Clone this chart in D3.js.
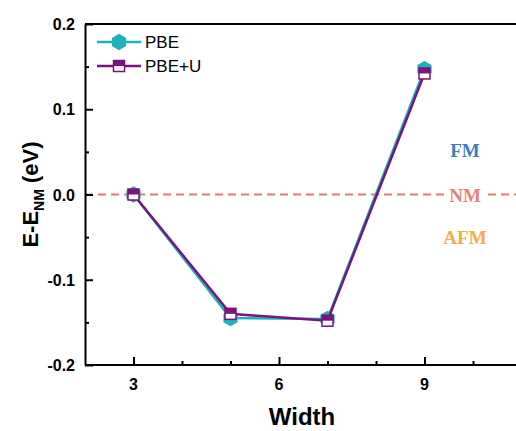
<!DOCTYPE html>
<html lang="en">
<head>
<meta charset="UTF-8">
<title>E-E_NM vs Width</title>
<script src="https://d3js.org/d3.v7.min.js"></script>
<style>
    body { margin: 0; background: #fff; }
    .tick-label { font-family: Arial, "Liberation Sans", sans-serif; font-weight: bold; font-size: 16px; }
    .axis-title { font-family: Arial, "Liberation Sans", sans-serif; font-weight: bold; }
    .legend { font-family: Arial, "Liberation Sans", sans-serif; font-size: 17px; }
    .phase { font-family: "Liberation Serif", "Times New Roman", serif; font-weight: bold; font-size: 19px; }
</style>
</head>
<body>
<svg width="516" height="431"></svg>
<script>
    // data
    const widths = [3, 5, 7, 9];
    const pbe = [0.0, -0.145, -0.146, 0.147];
    const pbeU = [0.0, -0.140, -0.148, 0.142];
    const xTicks = [3, 6, 9];
    const yTicks = [-0.2, -0.1, 0.0, 0.1, 0.2];

    const svg = d3.select("svg");
    const plotLeft = 85, plotTop = 24, plotBottom = 365;

    const x = d3.scaleLinear().domain([2, 11]).range([plotLeft, plotLeft + 9 * 48.5]);
    const y = d3.scaleLinear().domain([-0.2, 0.2]).range([plotBottom, plotTop]);

    const cyan = "#1cb3b8", purple = "#7a137f";

    // top frame line
    svg.append("line").attr("x1", plotLeft).attr("x2", 516).attr("y1", plotTop).attr("y2", plotTop)
        .attr("stroke", "#000").attr("stroke-width", 2);

    // NM reference line
    svg.append("line").attr("x1", plotLeft).attr("x2", 516).attr("y1", y(0)).attr("y2", y(0))
        .attr("stroke", "#ec7670").attr("stroke-width", 2).attr("stroke-dasharray", "8,5");

    // axes with inward ticks
    const xAxis = d3.axisBottom(x).tickValues(d3.range(3, 11)).tickSizeInner(-4).tickSizeOuter(0).tickFormat("");
    const gx = svg.append("g").attr("transform", `translate(0,${plotBottom})`).call(xAxis);
    gx.selectAll(".tick line").filter(d => xTicks.includes(d)).attr("y2", -8);
    gx.select(".domain").attr("d", `M${plotLeft},0H516`);
    gx.selectAll("path,line").attr("stroke", "#000").attr("stroke-width", 2);

    const yAxis = d3.axisLeft(y).tickValues([-0.15, -0.05, 0.05, 0.15].concat(yTicks))
        .tickSizeInner(-4).tickSizeOuter(0).tickFormat("");
    const gy = svg.append("g").attr("transform", `translate(${plotLeft},0)`).call(yAxis);
    gy.selectAll(".tick line").filter(d => yTicks.includes(d)).attr("x2", 8);
    gy.selectAll("path,line").attr("stroke", "#000").attr("stroke-width", 2);

    svg.append("g").selectAll("text").data(xTicks).enter().append("text")
        .attr("class", "tick-label").attr("x", d => x(d)).attr("y", plotBottom + 25)
        .attr("text-anchor", "middle").text(d => d);
    svg.append("g").selectAll("text").data(yTicks).enter().append("text")
        .attr("class", "tick-label").attr("x", plotLeft - 10).attr("y", d => y(d) + 6)
        .attr("text-anchor", "end").text(d => d.toFixed(1));

    // axis titles
    svg.append("text").attr("class", "axis-title").attr("x", 302).attr("y", 425)
        .attr("text-anchor", "middle").style("font-size", "24px").text("Width");
    const yt = svg.append("text").attr("class", "axis-title").style("font-size", "22px")
        .attr("transform", `translate(38,${y(0)}) rotate(-90)`).attr("text-anchor", "middle");
    yt.append("tspan").text("E-E");
    yt.append("tspan").attr("dy", 6).style("font-size", "14px").text("NM");
    yt.append("tspan").attr("dy", -6).text(" (eV)");

    // series
    const line = d3.line().x(d => x(d[0])).y(d => y(d[1]));
    const hex = d3.symbol().type({
        draw(ctx, size) {
            const r = Math.sqrt(size * 2 / (3 * Math.sqrt(3)));
            for (let i = 0; i < 6; i++) {
                const a = i * Math.PI / 3;
                const px = r * Math.sin(a), py = r * Math.cos(a);
                i ? ctx.lineTo(px, py) : ctx.moveTo(px, py);
            }
            ctx.closePath();
        }
    }).size(175);

    function drawPBE(g, pts) {
        g.selectAll("path.hex").data(pts).enter().append("path").attr("class", "hex")
            .attr("d", hex).attr("transform", d => `translate(${d[0]},${d[1]})`)
            .attr("fill", cyan);
    }
    function drawPBEU(g, pts) {
        const s = 11;
        const m = g.selectAll("g.sq").data(pts).enter().append("g").attr("class", "sq")
            .attr("transform", d => `translate(${d[0]},${d[1]})`);
        m.append("rect").attr("x", -s / 2).attr("y", -s / 2).attr("width", s).attr("height", s)
            .attr("fill", "#fff").attr("stroke", purple).attr("stroke-width", 1.5);
        m.append("rect").attr("x", -s / 2).attr("y", -s / 2).attr("width", s).attr("height", s / 2)
            .attr("fill", purple);
    }

    const pbeData = widths.map((w, i) => [w, pbe[i]]);
    const pbeUData = widths.map((w, i) => [w, pbeU[i]]);

    svg.append("path").datum(pbeData).attr("d", line).attr("fill", "none")
        .attr("stroke", cyan).attr("stroke-width", 2.5);
    drawPBE(svg.append("g"), pbeData.map(d => [x(d[0]), y(d[1])]));
    svg.append("path").datum(pbeUData).attr("d", line).attr("fill", "none")
        .attr("stroke", purple).attr("stroke-width", 2.5);
    drawPBEU(svg.append("g"), pbeUData.map(d => [x(d[0]), y(d[1])]));

    // legend
    const lg = svg.append("g");
    [["PBE", 42, drawPBE, cyan], ["PBE+U", 66, drawPBEU, purple]].forEach(([name, ly, fn, c]) => {
        lg.append("line").attr("x1", 97).attr("x2", 141).attr("y1", ly).attr("y2", ly)
            .attr("stroke", c).attr("stroke-width", 2.5);
        fn(lg.append("g"), [[119, ly]]);
        lg.append("text").attr("class", "legend").attr("x", 145).attr("y", ly + 6).text(name);
    });

    // phase labels
    const phases = [["FM", 0.052, "#3a7fc4"], ["NM", 0.0, "#e9807a"], ["AFM", -0.05, "#f5aa4c"]];
    svg.append("rect").attr("x", 444).attr("y", y(0) - 8).attr("width", 42).attr("height", 16).attr("fill", "#fff");
    svg.append("g").selectAll("text").data(phases).enter().append("text")
        .attr("class", "phase").attr("x", 465).attr("y", d => y(d[1]) + 7)
        .attr("text-anchor", "middle").attr("fill", d => d[2]).text(d => d[0]);
</script>
</body>
</html>
